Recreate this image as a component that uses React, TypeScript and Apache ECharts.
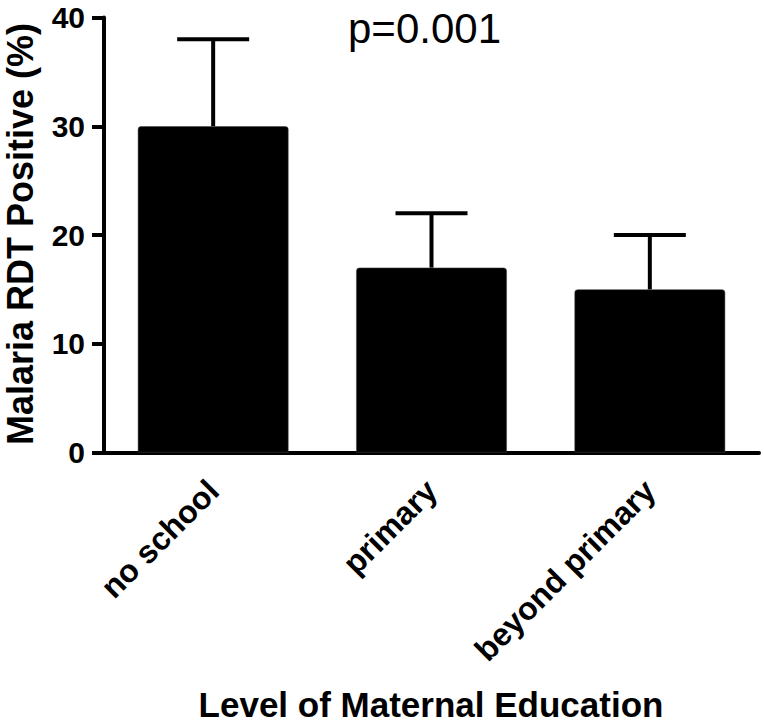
import React, { useEffect, useRef } from "react";
import * as echarts from "echarts";

const categories = ["no school", "primary", "beyond primary"];
const means = [30, 17, 15];
const upperErrors = [38, 22, 20];
const yTicks = { min: 0, max: 40, interval: 10 };
const pValueText = "p=0.001";
const xTitle = "Level of Maternal Education";
const yTitle = "Malaria RDT Positive (%)";

const FONT = "'Liberation Sans', Arial, Helvetica, sans-serif";

export default function App() {
  const ref = useRef<HTMLDivElement>(null);
  useEffect(() => {
    if (!ref.current) return;
    const chart = echarts.init(ref.current, null, { renderer: "svg" });
    const errData = categories.map((_, i) => [i, means[i], upperErrors[i]]);
    chart.setOption({
      animation: false,
      backgroundColor: "#ffffff",
      grid: {
        left: 104,
        right: 5,
        top: 17.5,
        bottom: 271.5,
        containLabel: false,
        outerBoundsMode: "none",
      },
      xAxis: {
        type: "category",
        data: categories,
        axisLine: { lineStyle: { color: "#000", width: 4 } },
        axisTick: { alignWithLabel: true, length: 11, lineStyle: { color: "#000", width: 4 } },
        axisLabel: {
          rotate: 45,
          margin: 33,
          color: "#000",
          fontFamily: FONT,
          fontWeight: "bold",
          fontSize: 32,
        },
      },
      yAxis: {
        type: "value",
        min: yTicks.min,
        max: yTicks.max,
        interval: yTicks.interval,
        splitLine: { show: false },
        axisLine: { show: true, lineStyle: { color: "#000", width: 4 } },
        axisTick: { show: true, length: 12, lineStyle: { color: "#000", width: 4 } },
        axisLabel: {
          margin: 19,
          color: "#000",
          fontFamily: FONT,
          fontWeight: "bold",
          fontSize: 30,
        },
      },
      graphic: [
        {
          type: "text",
          left: 348,
          top: 7,
          style: {
            text: pValueText,
            fill: "#000",
            font: `42px ${FONT}`,
          },
        },
        {
          type: "text",
          x: 20,
          y: 234,
          rotation: Math.PI / 2,
          style: {
            text: yTitle,
            fill: "#000",
            font: `bold 36px ${FONT}`,
            align: "center",
            verticalAlign: "middle",
          },
        },
        {
          type: "text",
          x: 431,
          y: 704,
          style: {
            text: xTitle,
            fill: "#000",
            font: `bold 35px ${FONT}`,
            align: "center",
            verticalAlign: "middle",
          },
        },
      ],
      series: [
        {
          type: "bar",
          data: means,
          barWidth: "69%",
          itemStyle: { color: "#000", borderRadius: [3, 3, 0, 0], borderColor: "#444", borderWidth: 0.5 },
          z: 2,
        },
        {
          type: "custom",
          data: errData,
          encode: { x: 0, y: [1, 2] },
          z: 3,
          renderItem: (params: any, api: any) => {
            const base = api.coord([api.value(0), api.value(1)]);
            const top = api.coord([api.value(0), api.value(2)]);
            const half = 36;
            const style = { stroke: "#000", lineWidth: 4 };
            return {
              type: "group",
              children: [
                { type: "line", shape: { x1: base[0], y1: base[1], x2: top[0], y2: top[1] }, style },
                { type: "line", shape: { x1: top[0] - half, y1: top[1], x2: top[0] + half, y2: top[1] }, style },
              ],
            };
          },
        },
      ],
    });
    return () => chart.dispose();
  }, []);
  return (
    <div
      ref={ref}
      style={{ position: "fixed", left: 0, top: 0, width: 764, height: 724, background: "#fff" }}
    />
  );
}
